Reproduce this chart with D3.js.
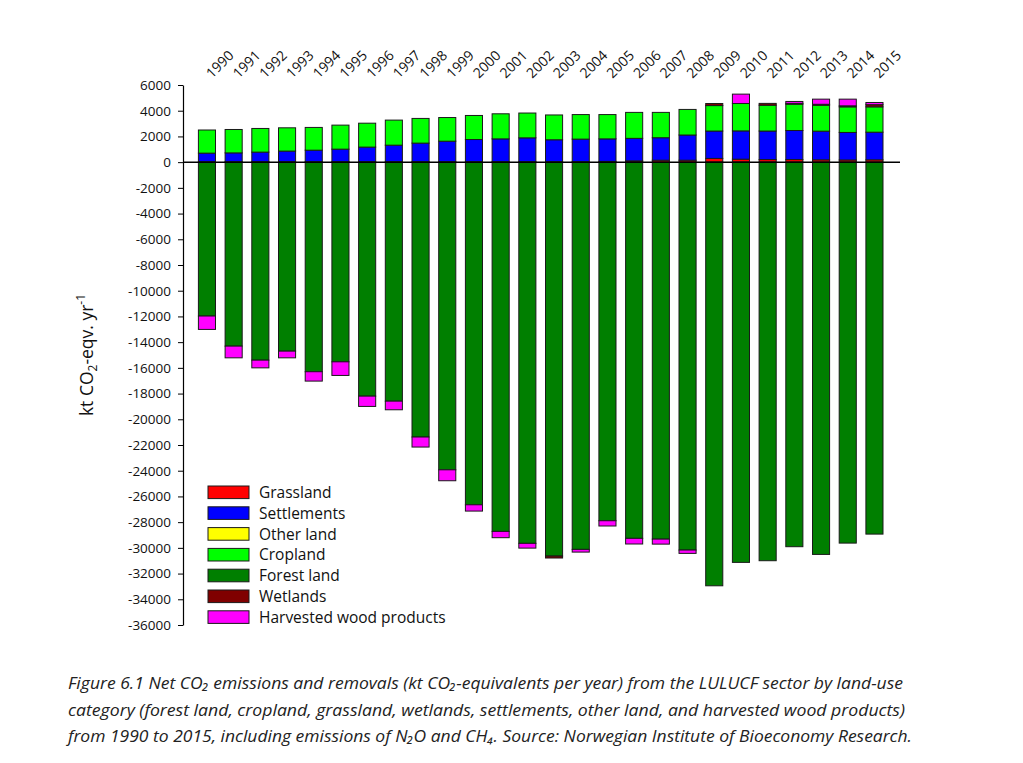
<!DOCTYPE html>
<html>
<head>
<meta charset="utf-8">
<script src="https://cdn.jsdelivr.net/npm/d3@7"></script>
<style>
  html, body { margin: 0; padding: 0; background: #ffffff; }
  svg { display: block; }
</style>
</head>
<body>
<svg id="chart" width="1023" height="763"></svg>
<script>
// ---------- DATA ----------
const years = ["1990","1991","1992","1993","1994","1995","1996","1997","1998","1999","2000","2001","2002",
               "2003","2004","2005","2006","2007","2008","2009","2010","2011","2012","2013","2014","2015"];
const grassland   = [30,30,30,30,30,30,30,30,30,30,30,30,30,30,30,60,100,150,150,290,230,200,200,180,170,180];
const settlements = [670,690,750,830,900,980,1140,1290,1450,1600,1730,1780,1860,1710,1760,1750,1750,1750,1960,2130,2200,2220,2260,2230,2140,2150];
const otherLand   = [0,0,0,0,0,0,0,0,0,0,0,0,0,0,0,0,0,0,0,0,0,0,0,0,0,0];
const cropland    = [1800,1820,1840,1810,1770,1870,1860,1950,1920,1840,1870,1950,1930,1930,1910,1890,2020,1970,1990,1980,2130,2010,2050,2020,1990,1970];
const forestLand  = [-11970,-14310,-15400,-14700,-16300,-15530,-18200,-18590,-21380,-23930,-26650,-28720,-29650,
                     -30640,-30120,-27890,-29260,-29320,-30170,-32950,-31130,-31000,-29910,-30510,-29630,-28930];
const wetlands    = [0,0,0,0,0,0,0,0,0,0,0,0,0,-150,0,0,0,0,0,160,0,140,60,70,80,170];
const hwp         = [-1040,-910,-600,-520,-730,-1060,-800,-670,-780,-850,-490,-490,-370,0,-210,-410,-440,-390,-260,0,730,0,150,400,520,170];

const seriesNames  = ["Grassland","Settlements","Other land","Cropland","Forest land","Wetlands","Harvested wood products"];
const seriesColors = ["#ff0000","#0000ff","#ffff00","#00ff00","#007f00","#800000","#ff00ff"];
const seriesValues = [grassland, settlements, otherLand, cropland, forestLand, wetlands, hwp];

const yTicks = [6000,4000,2000,0,-2000,-4000,-6000,-8000,-10000,-12000,-14000,-16000,-18000,-20000,
                -22000,-24000,-26000,-28000,-30000,-32000,-34000,-36000];

const captionLines = [
  "Figure 6.1 Net CO\u2082 emissions and removals (kt CO\u2082-equivalents per year) from the LULUCF sector by land-use",
  "category (forest land, cropland, grassland, wetlands, settlements, other land, and harvested wood products)",
  "from 1990 to 2015, including emissions of N\u2082O and CH\u2084. Source: Norwegian Institute of Bioeconomy Research."
];

// ---------- BUILD ----------
const table = years.map((yr, i) => {
  const row = { year: yr };
  seriesNames.forEach((n, k) => row[n] = seriesValues[k][i]);
  return row;
});

const svg = d3.select("#chart");
const font = "'Open Sans', 'Noto Sans', sans-serif";

const y = d3.scaleLinear().domain([-36000, 6000]).range([625, 85]);
const x = d3.scaleBand().domain(years).range([193.6, 887.8]).paddingInner(0.36).paddingOuter(0.18);
const color = d3.scaleOrdinal().domain(seriesNames).range(seriesColors);

const stack = d3.stack().keys(seriesNames).offset(d3.stackOffsetDiverging);
const stacked = stack(table);

// bars
const g = svg.append("g");
stacked.forEach(layer => {
  g.append("g")
    .attr("fill", color(layer.key))
    .selectAll("rect")
    .data(layer.filter(d => d[1] !== d[0]))
    .join("rect")
      .attr("x", d => x(d.data.year))
      .attr("width", x.bandwidth())
      .attr("y", d => y(Math.max(d[0], d[1])))
      .attr("height", d => Math.abs(y(d[0]) - y(d[1])))
      .attr("stroke", "#1a1a1a")
      .attr("stroke-width", 1);
});

// zero line
svg.append("line")
  .attr("x1", 183).attr("x2", 900)
  .attr("y1", y(0)).attr("y2", y(0))
  .attr("stroke", "#000").attr("stroke-width", 1.5);

// y axis
const yAxis = d3.axisLeft(y).tickValues(yTicks).tickSize(5).tickSizeOuter(0).tickPadding(7)
  .tickFormat(d => String(d));
const ya = svg.append("g").attr("transform", "translate(183,0)").call(yAxis);
ya.selectAll("text").attr("font-family", font).attr("font-size", 13.5).attr("fill", "#111");
ya.selectAll("line").attr("stroke", "#000");
ya.select(".domain").attr("stroke", "#000").attr("stroke-width", 1.2);

// year labels on top
svg.append("g").selectAll("text")
  .data(years)
  .join("text")
    .attr("transform", d => `translate(${x(d) + x.bandwidth() / 2 + 5},79) rotate(-45)`)
    .attr("font-family", font).attr("font-size", 14).attr("fill", "#111")
    .text(d => d);

// y axis title
const yt = svg.append("text")
  .attr("transform", "translate(93,355) rotate(-90)")
  .attr("text-anchor", "middle")
  .attr("font-family", font).attr("font-size", 17.5).attr("fill", "#111");
yt.append("tspan").text("kt CO");
yt.append("tspan").attr("font-size", 12).attr("dy", 4).text("2");
yt.append("tspan").attr("dy", -4).text("-eqv. yr");
yt.append("tspan").attr("font-size", 12).attr("dy", -8).text("-1");

// legend
const leg = svg.append("g").attr("transform", "translate(208,486)");
seriesNames.forEach((n, i) => {
  const row = leg.append("g").attr("transform", `translate(0,${i * 20.8})`);
  row.append("rect").attr("width", 41).attr("height", 12.6)
    .attr("fill", color(n)).attr("stroke", "#1a1a1a").attr("stroke-width", 1);
  row.append("text").attr("x", 51).attr("y", 12)
    .attr("font-family", font).attr("font-size", 15.5).attr("fill", "#111")
    .text(n);
});

// caption
const capWidths = [835, 837, 844];
svg.append("g").selectAll("text")
  .data(captionLines)
  .join("text")
    .attr("x", 68)
    .attr("y", (d, i) => 689 + i * 26.5)
    .attr("font-family", font).attr("font-style", "italic").attr("font-size", 16)
    .attr("fill", "#222")
    .attr("textLength", (d, i) => capWidths[i])
    .attr("lengthAdjust", "spacingAndGlyphs")
    .text(d => d);
</script>
</body>
</html>
